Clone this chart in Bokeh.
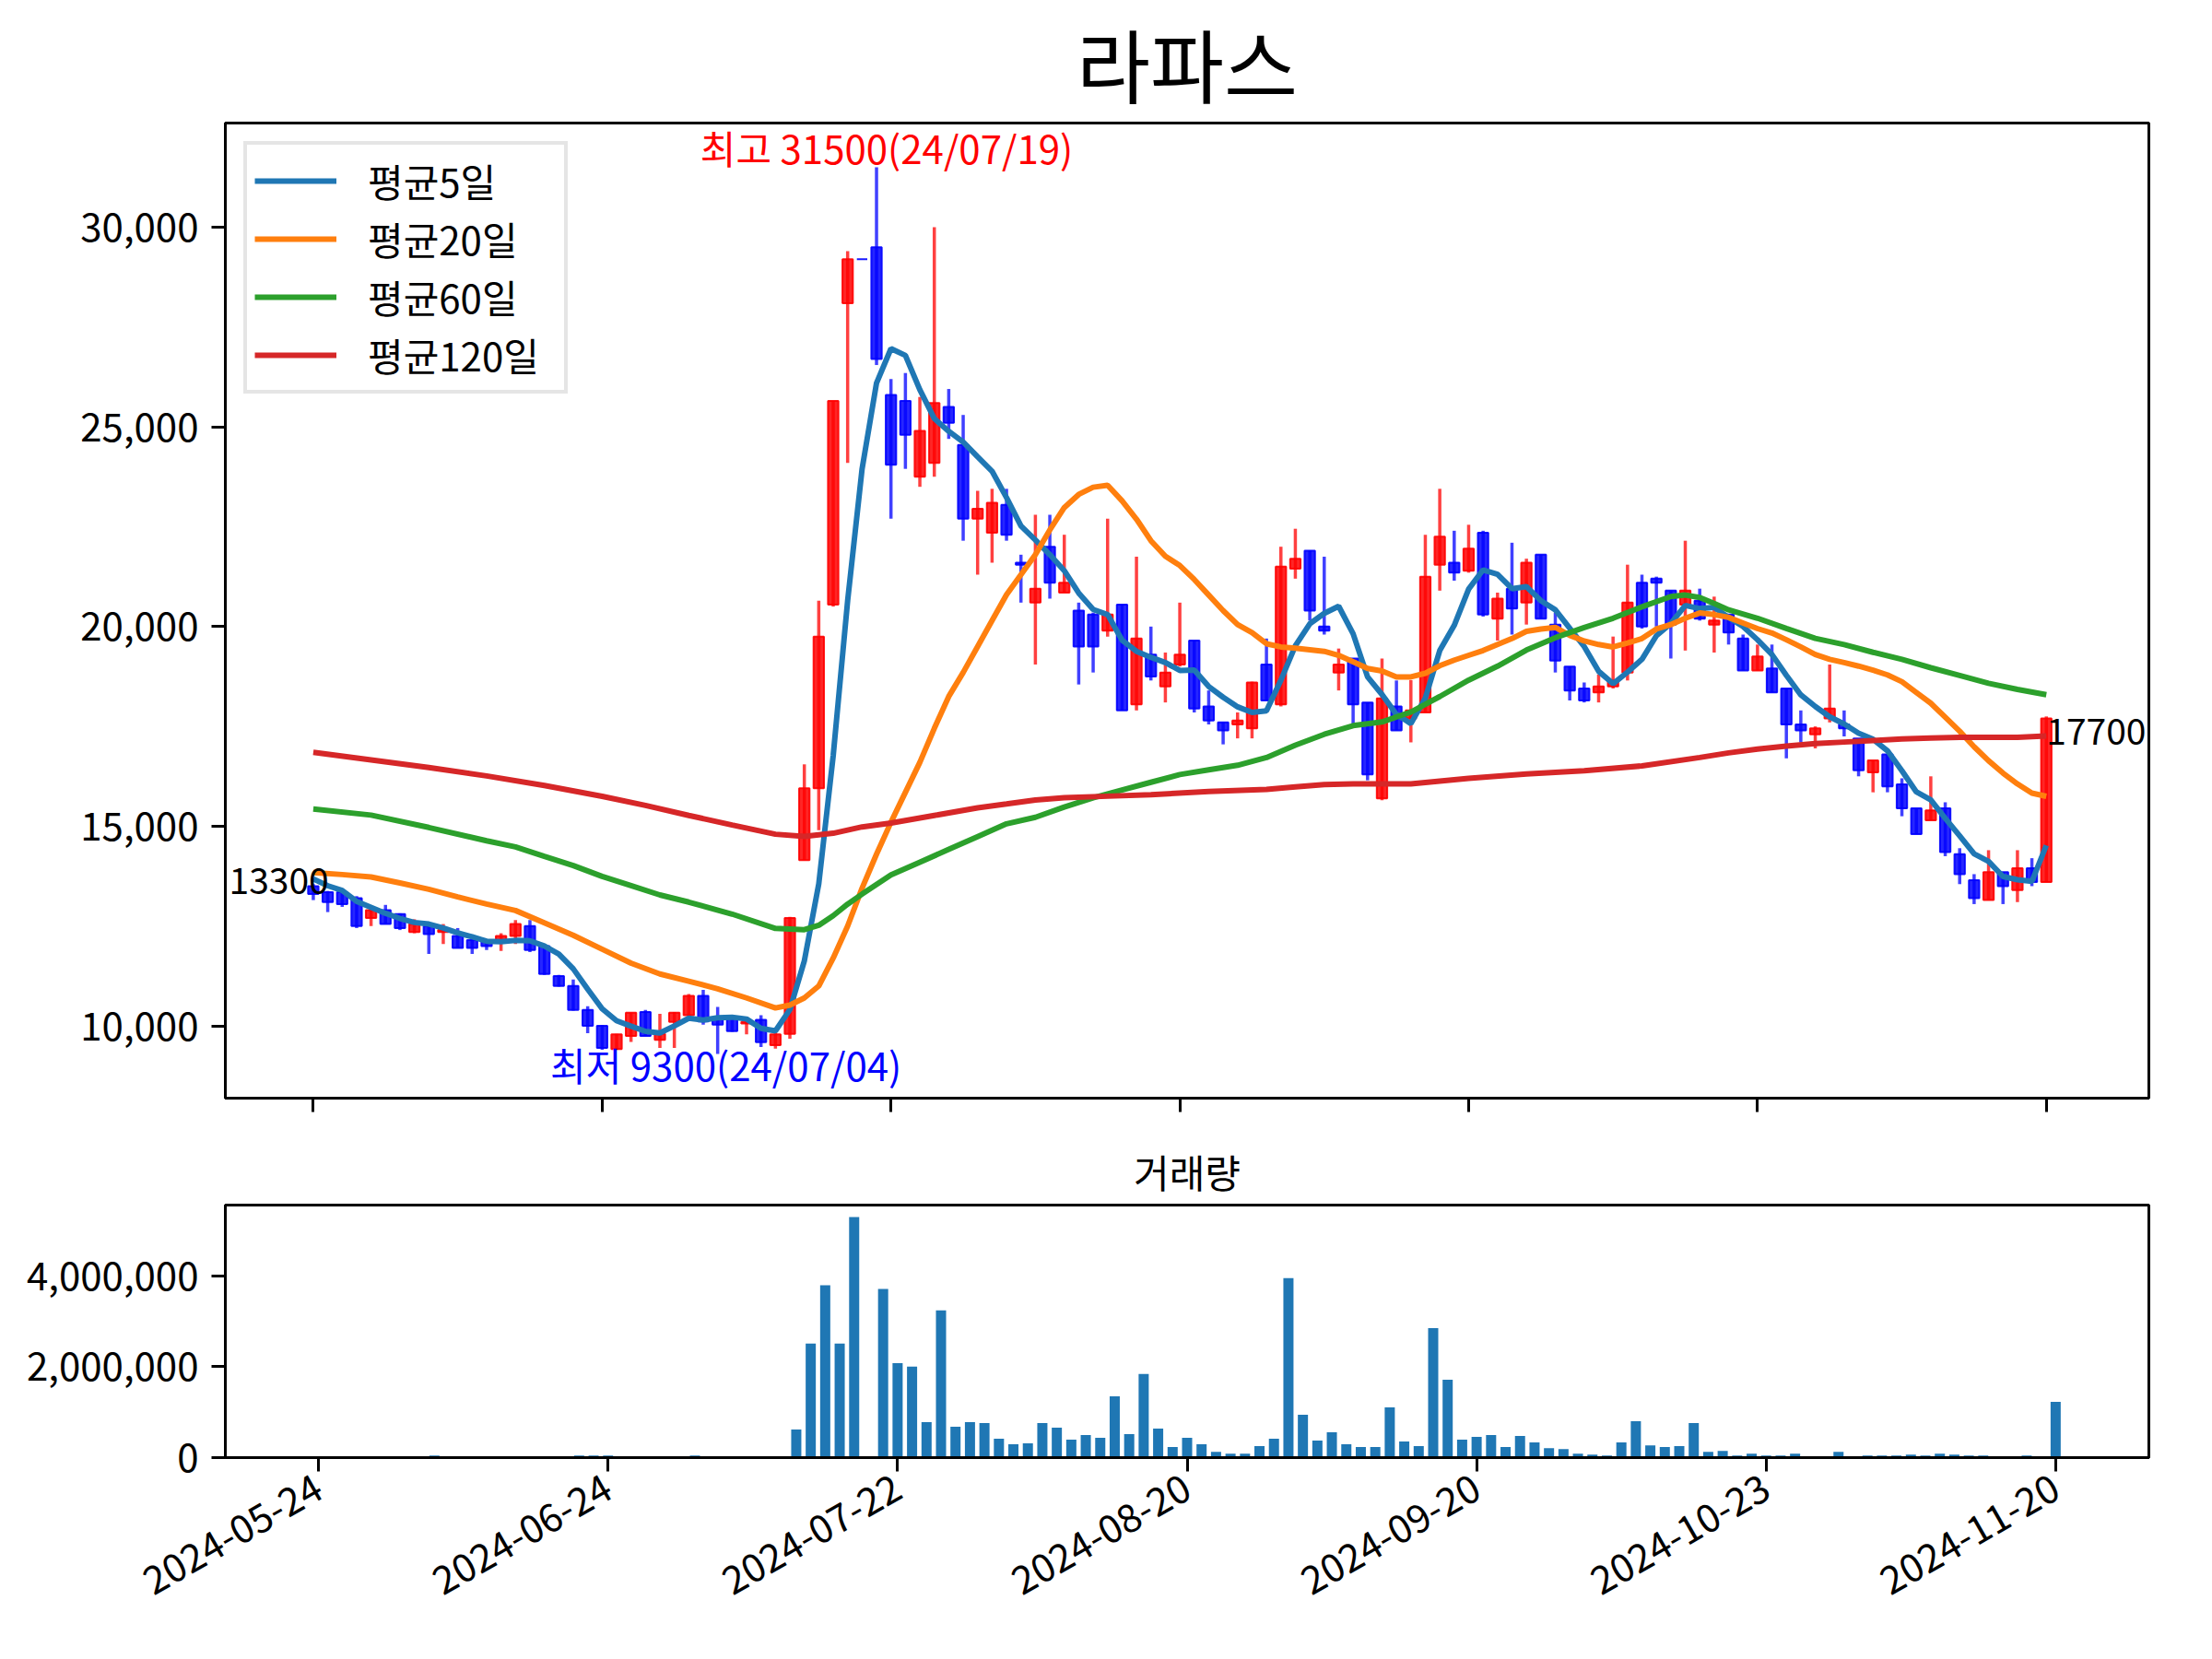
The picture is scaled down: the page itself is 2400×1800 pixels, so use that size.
import math
import pandas as pd
from bokeh.plotting import figure
from bokeh.layouts import column
from bokeh.models import (Range1d, FixedTicker, NumeralTickFormatter, ColumnDataSource,
                          Legend, LegendItem, Label)
from bokeh.core.properties import value
from bokeh.embed import file_html
from bokeh.resources import INLINE

FONT = "Noto Sans CJK KR"

# ---------------- data ----------------
start_date = "2024-05-24"
end_date = "2024-11-20"
holidays = ["2024-06-06", "2024-08-15", "2024-09-16", "2024-09-17", "2024-09-18",
            "2024-10-01", "2024-10-03", "2024-10-09"]
tick_dates = ["2024-05-24", "2024-06-24", "2024-07-22", "2024-08-20",
              "2024-09-20", "2024-10-23", "2024-11-20"]

opens = [13500, 13350, 13350, 13200, 12700, 12900, 12800, 12350, 12500, 12350,
         12250, 12150, 12100, 12150, 12250, 12500, 12000, 11250, 11000, 10400,
         10000, 9420, 9750, 10350, 9650, 10100, 10270, 10750, 10190, 10190,
         10060, 10150, 9520, 9800, 14150, 15950, 20550, 28100, 29200, 29500,
         25800, 25650, 23750, 24100, 25500, 24550, 22700, 22350, 23050, 21600,
         20600, 22000, 20850, 20400, 20300, 19900, 20550, 18050, 19300, 18500,
         19050, 19650, 18000, 17600, 17550, 17450, 19050, 18050, 21450, 21900,
         20000, 18850, 19200, 18100, 15700, 18000, 17700, 17850, 21550, 21600,
         21400, 22350, 20200, 20950, 20600, 21800, 20050, 19000, 18450, 18350,
         18500, 18850, 21100, 21200, 20900, 20550, 20650, 20050, 20300, 19700,
         18900, 18950, 18450, 17550, 17300, 17700, 17550, 17200, 16350, 16800,
         16050, 15450, 15150, 15450, 14300, 13650, 13150, 13850, 13400, 13950,
         13600]
highs = [13550, 13380, 13400, 13250, 12970, 13030, 12820, 12670, 12550, 12550,
         12450, 12200, 12120, 12320, 12650, 12650, 12000, 11280, 11160, 10490,
         10020, 9800, 10330, 10400, 10300, 10350, 10800, 10900, 10475, 10220,
         10190, 10270, 9870, 12730, 16550, 20650, 25650, 29400, 29200, 31500,
         26200, 26350, 25750, 30000, 25950, 25300, 23400, 23450, 23450, 21800,
         22800, 22800, 22300, 20600, 20350, 22700, 20550, 21750, 20000, 19350,
         20600, 19650, 18400, 17600, 17850, 18620, 19700, 22000, 22450, 21900,
         21750, 19450, 19200, 18100, 19200, 18650, 18660, 22300, 23450, 22400,
         22550, 22400, 20850, 22100, 21700, 21800, 20350, 19000, 18600, 18800,
         19750, 21550, 21300, 21250, 20900, 22150, 20950, 20750, 20300, 19800,
         19550, 19550, 18450, 17900, 17500, 19050, 17900, 17200, 16650, 16800,
         16200, 15450, 16250, 15600, 14450, 13800, 14400, 13850, 14400, 14200,
         17750]
lows = [13150, 12850, 12980, 12450, 12500, 12550, 12400, 12320, 11800, 12050,
        11950, 11800, 11900, 11880, 12050, 11850, 11280, 10980, 10380, 9820,
        9400, 9400, 9600, 9750, 9450, 9450, 10250, 10030, 9300, 9850,
        9790, 9470, 9430, 9680, 14150, 14900, 20500, 24100, 29200, 26550,
        22700, 23950, 23500, 23750, 24700, 22150, 21300, 21600, 22150, 20600,
        19050, 20700, 20850, 18550, 18850, 19750, 17900, 17900, 18650, 18100,
        19000, 17850, 17550, 17050, 17200, 17200, 18150, 18000, 21200, 20150,
        19800, 18400, 17550, 16150, 15650, 17400, 17100, 17850, 20900, 21150,
        21350, 20250, 19650, 19800, 20050, 20200, 18850, 18150, 18100, 18100,
        18450, 18650, 19950, 20000, 19200, 19400, 20150, 19350, 19550, 18900,
        18900, 18350, 16700, 17100, 16950, 17600, 17250, 16250, 15850, 15850,
        15250, 14800, 15150, 14250, 13550, 13050, 13150, 13050, 13100, 13500,
        13600]
closes = [13300, 13100, 13050, 12500, 12900, 12550, 12450, 12550, 12300, 12400,
          11950, 11950, 12000, 12250, 12550, 11900, 11300, 11000, 10400, 10000,
          9450, 9790, 10330, 9750, 9800, 10330, 10750, 10110, 10030, 9870,
          10100, 9590, 9790, 12700, 15950, 19750, 25650, 29200, 29200, 26700,
          24050, 24800, 24900, 25600, 25100, 22700, 22950, 23100, 22300, 21550,
          20950, 21100, 21100, 19500, 19500, 20300, 17900, 19700, 18750, 18850,
          19300, 17950, 17650, 17400, 17650, 18600, 18150, 21500, 21700, 20400,
          19900, 19050, 18050, 16300, 18200, 17400, 17900, 21250, 22250, 21350,
          21950, 20300, 20700, 20450, 21600, 20200, 19150, 18400, 18150, 18500,
          18650, 20600, 20000, 21100, 20050, 20900, 20200, 20150, 19850, 18900,
          19250, 18350, 17550, 17400, 17450, 17950, 17450, 16400, 16650, 16000,
          15450, 14800, 15400, 14350, 13800, 13200, 13850, 13500, 13950, 13600,
          17700]
prior_closes = [13950, 13650, 13850, 13650]   # 4 sessions before the first shown day

volumes = [10000, 8000, 8000, 27000, 8000, 8000, 8000, 10000, 47000, 10000,
           8000, 8000, 8000, 10000, 27000, 27000, 27000, 27000, 47000, 47000,
           47000, 27000, 27000, 10000, 27000, 10000, 47000, 27000, 27000, 10000,
           10000, 27000, 10000, 617000, 2510000, 3790000, 2510000, 5290000, 0, 3710000,
           2080000, 2000000, 780000, 3240000, 678000, 780000, 759000, 414000, 292000, 312000,
           759000, 658000, 393000, 495000, 434000, 1350000, 515000, 1840000, 637000, 231000,
           434000, 292000, 129000, 88000, 88000, 251000, 414000, 3950000, 942000, 373000,
           556000, 292000, 231000, 231000, 1105000, 353000, 251000, 2850000, 1715000, 393000,
           454000, 495000, 231000, 475000, 332000, 210000, 190000, 88000, 68000, 47000,
           332000, 800000, 271000, 231000, 251000, 759000, 129000, 149000, 47000, 88000,
           47000, 47000, 88000, 27000, 27000, 129000, 5000, 47000, 47000, 47000,
           68000, 47000, 88000, 68000, 47000, 47000, 27000, 27000, 47000, 27000,
           1227000]

# moving averages (session index, value)
ma20_idx = [0, 2, 4, 6, 8, 10, 12, 14, 16, 18, 20, 22, 24, 26, 28, 30, 32, 33, 34, 35,
            36, 37, 38, 39, 40, 41, 42, 43, 44, 45, 46, 47, 48, 49, 50, 51, 52, 53, 54, 55,
            56, 57, 58, 59, 60, 61, 62, 63, 64, 65, 66, 67, 68, 69, 70, 71, 72, 73, 74, 75,
            76, 77, 78, 79, 80, 81, 82, 83, 84, 85, 86, 87, 88, 89, 90, 91, 92, 93, 94, 95,
            96, 97, 98, 99, 100, 101, 102, 103, 104, 105, 106, 107, 108, 109, 110, 111, 112,
            113, 114, 115, 116, 117, 118, 119, 120]
ma20_val = [13840, 13790, 13730, 13580, 13420, 13230, 13050, 12890, 12580, 12270, 11920,
            11570, 11300, 11120, 10930, 10700, 10450, 10520, 10700, 11000, 11700, 12500,
            13450, 14300, 15100, 15850, 16600, 17450, 18250, 18850, 19500, 20150, 20800,
            21300, 21800, 22420, 22980, 23310, 23490, 23540, 23150, 22690, 22150, 21760,
            21530, 21180, 20790, 20400, 20050, 19850, 19570, 19490, 19460, 19420, 19380,
            19280, 19120, 18950, 18890, 18740, 18740, 18830, 19020, 19160, 19280, 19400,
            19550, 19700, 19880, 19940, 19980, 19780, 19640, 19550, 19490, 19590, 19700,
            19940, 20050, 20210, 20340, 20300, 20230, 20090, 19950, 19840, 19670, 19490,
            19300, 19180, 19100, 19010, 18910, 18790, 18620, 18350, 18080, 17730, 17380,
            16990, 16640, 16330, 16060, 15830, 15750]
ma60_idx = [0, 4, 8, 12, 14, 16, 18, 20, 22, 24, 26, 29, 32, 34, 35, 36, 37, 38, 40, 42,
            44, 46, 48, 50, 52, 54, 56, 58, 60, 62, 64, 66, 68, 70, 72, 74, 76, 78, 80, 82,
            84, 86, 88, 90, 92, 94, 95, 96, 97, 98, 100, 102, 104, 106, 108, 110, 112, 114,
            116, 118, 120]
ma60_val = [15434, 15279, 14969, 14636, 14481, 14248, 14016, 13744, 13512, 13279, 13100,
            12800, 12440, 12410, 12520, 12760, 13050, 13300, 13780, 14100, 14420, 14740,
            15060, 15224, 15480, 15713, 15907, 16101, 16294, 16411, 16527, 16721, 17031,
            17302, 17520, 17612, 17860, 18248, 18659, 19008, 19411, 19721, 19976, 20209,
            20496, 20752, 20790, 20728, 20580, 20420, 20209, 19953, 19705, 19550, 19356,
            19178, 18969, 18775, 18581, 18426, 18294]
ma120_idx = [0, 4, 8, 12, 16, 20, 23, 26, 29, 32, 34, 36, 38, 40, 43, 46, 48, 50, 52, 55,
             58, 62, 66, 68, 70, 72, 76, 80, 84, 88, 92, 96, 98, 100, 102, 104, 106, 108,
             110, 112, 114, 116, 118, 120]
ma120_val = [16850, 16660, 16470, 16260, 16020, 15750, 15520, 15270, 15030, 14800, 14745,
             14824, 14983, 15078, 15269, 15459, 15558, 15659, 15713, 15752, 15790, 15868,
             15922, 15984, 16046, 16062, 16062, 16201, 16310, 16387, 16511, 16721, 16837,
             16930, 17007, 17069, 17108, 17147, 17185, 17209, 17224, 17224, 17224, 17263]

# ---------------- derived ----------------
dates = [d for d in pd.bdate_range(start_date, end_date) if d.strftime("%Y-%m-%d") not in holidays]
date_str = [d.strftime("%Y-%m-%d") for d in dates]
n = len(date_str)
xs = list(range(n))
ma5 = pd.Series(prior_closes + closes).rolling(5).mean().tolist()[len(prior_closes):]

colors = ["#ff0000" if c > o else "#0000ff" for o, c in zip(opens, closes)]
src = ColumnDataSource(dict(
    x=xs, o=opens, h=highs, l=lows, c=closes,
    top=[max(o, c) for o, c in zip(opens, closes)],
    bot=[min(o, c) for o, c in zip(opens, closes)],
    color=colors))

tick_idx = [date_str.index(d) for d in tick_dates]


def style_axes(fig):
    fig.grid.visible = False
    fig.outline_line_color = "black"
    fig.outline_line_width = 3
    fig.background_fill_color = "white"
    fig.border_fill_color = "white"
    for ax in fig.xaxis + fig.yaxis:
        ax.axis_line_width = 3
        ax.axis_line_color = "black"
        ax.major_tick_line_width = 3
        ax.major_tick_line_color = "black"
        ax.major_tick_out = 15
        ax.major_tick_in = 0
        ax.minor_tick_line_color = None
        ax.major_label_text_font = FONT
        ax.major_label_text_font_size = "42px"
        ax.major_label_text_color = "black"
        ax.major_label_standoff = 14


# ---------------- main price chart ----------------
x_main = Range1d(-6.09, 127.1)
p = figure(x_range=x_main, y_range=Range1d(8190, 32610),
           frame_width=2087, frame_height=1058,
           min_border_left=244, min_border_right=53, min_border_top=127, min_border_bottom=30,
           output_backend="svg", toolbar_location=None)
p.title.text = "라파스"
p.title.align = "center"
p.title.text_font = FONT
p.title.text_font_size = "87px"
p.title.text_font_style = "normal"
p.title.text_color = "black"
p.title.standoff = 5

style_axes(p)
p.xaxis.ticker = FixedTicker(ticks=tick_idx)
p.xaxis.major_label_text_color = None
p.xaxis.major_label_standoff = 0
p.yaxis.ticker = FixedTicker(ticks=[10000, 15000, 20000, 25000, 30000])
p.yaxis.formatter = NumeralTickFormatter(format="0,0")

p.segment(x0="x", y0="l", x1="x", y1="h", line_color="color", line_width=3.5,
          line_alpha=0.75, source=src)
p.vbar(x="x", width=0.72, top="top", bottom="bot", fill_color="color", line_color="color",
       fill_alpha=0.85, line_alpha=0.9, line_width=2, source=src)

r5 = p.line(xs, ma5, line_color="#1f77b4", line_width=6)
r20 = p.line(ma20_idx, ma20_val, line_color="#ff7f0e", line_width=6)
r60 = p.line(ma60_idx, ma60_val, line_color="#2ca02c", line_width=6)
r120 = p.line(ma120_idx, ma120_val, line_color="#d62728", line_width=6)

legend = Legend(items=[LegendItem(label="평균5일", renderers=[r5]),
                       LegendItem(label="평균20일", renderers=[r20]),
                       LegendItem(label="평균60일", renderers=[r60]),
                       LegendItem(label="평균120일", renderers=[r120])],
                location="top_left", margin=20, padding=8, spacing=2,
                glyph_width=89, glyph_height=38, label_height=38, label_width=205,
                label_standoff=34,
                label_text_font=FONT, label_text_font_size="42px", label_text_color="black",
                border_line_color="#cccccc", border_line_width=4,
                background_fill_color="white", background_fill_alpha=0.8)
p.add_layout(legend)

# annotations
hi_i = max(range(n), key=lambda i: highs[i])
lo_i = min(range(n), key=lambda i: lows[i])
hi_txt = f"최고 {highs[hi_i]}({dates[hi_i].strftime('%y/%m/%d')})"
lo_txt = f"최저 {lows[lo_i]}({dates[lo_i].strftime('%y/%m/%d')})"
p.text(x=[hi_i], y=[highs[hi_i]], text=[hi_txt], text_color="red",
       text_font=value(FONT), text_font_size="42px", text_align="center",
       text_baseline="middle", x_offset=11, y_offset=-22)
p.text(x=[lo_i], y=[lows[lo_i]], text=[lo_txt], text_color="blue",
       text_font=value(FONT), text_font_size="42px", text_align="center",
       text_baseline="middle", x_offset=9, y_offset=11)
# first / last close labels, kept just inside the frame
p.add_layout(Label(x=x_main.start, y=closes[0], text=str(closes[0]), text_color="black",
                   text_font=FONT, text_font_size="39px", text_align="left",
                   text_baseline="bottom", x_offset=4))
p.add_layout(Label(x=x_main.end, y=closes[-1], text=str(closes[-1]), text_color="black",
                   text_font=FONT, text_font_size="39px", text_align="right",
                   text_baseline="top", x_offset=-3))

# ---------------- volume chart ----------------
p2 = figure(x_range=Range1d(-6.44, 126.44), y_range=Range1d(0, max(volumes) * 1.05),
            frame_width=2087, frame_height=274,
            min_border_left=244, min_border_right=53, min_border_top=86, min_border_bottom=190,
            output_backend="svg", toolbar_location=None)
p2.title.text = "거래량"
p2.title.align = "center"
p2.title.text_font = FONT
p2.title.text_font_size = "42px"
p2.title.text_font_style = "normal"
p2.title.text_color = "black"
p2.title.standoff = 14

style_axes(p2)
p2.vbar(x=xs, top=volumes, width=0.7, fill_color="#1f77b4", line_color=None)
p2.xaxis.ticker = FixedTicker(ticks=tick_idx)
p2.xaxis.major_label_overrides = {i: date_str[i] for i in tick_idx}
p2.xaxis.major_label_orientation = math.pi / 6
p2.yaxis.ticker = FixedTicker(ticks=[0, 2000000, 4000000])
p2.yaxis.formatter = NumeralTickFormatter(format="0,0")

layout = column(p, p2)
open("out.html", "w").write(file_html(layout, INLINE))
